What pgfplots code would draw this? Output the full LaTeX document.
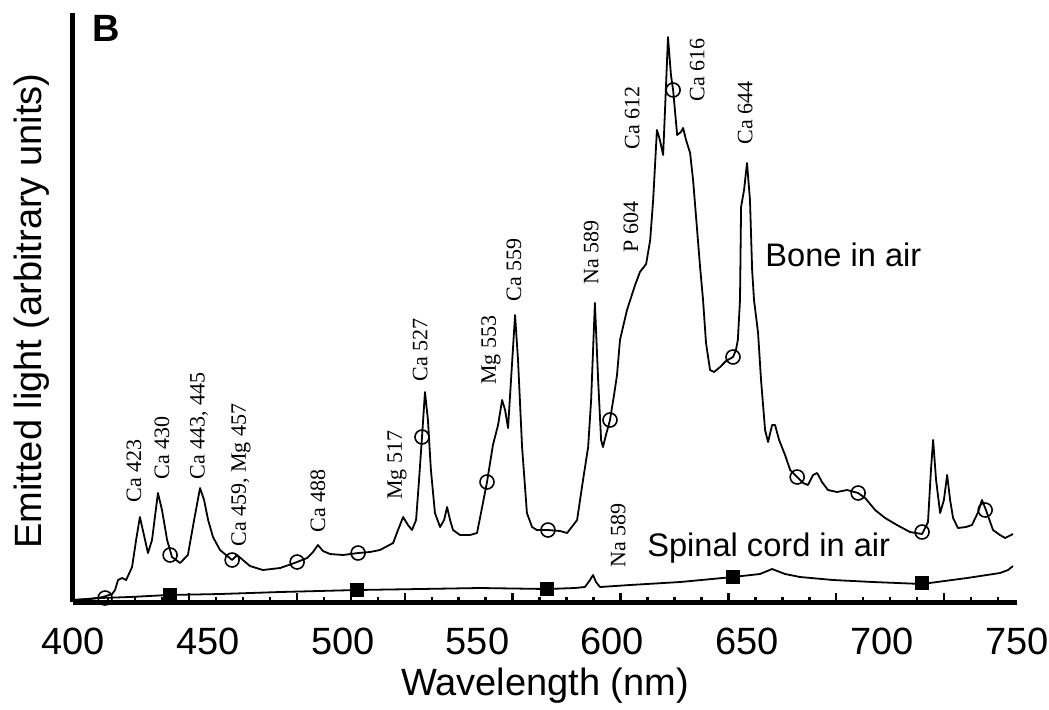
\documentclass[border=0pt]{standalone}
\usepackage{fontspec}
\setmainfont{Liberation Sans}
\newfontfamily\tnr{Liberation Serif}
\usepackage{pgfplots}
\pgfplotsset{compat=1.18}

\begin{document}
\begin{tikzpicture}
\useasboundingbox (-36.5pt,-53.5pt) rectangle (488pt,301pt);
\pgfplotsset{
  specax/.style={
    scale only axis, width=472pt, height=294.5pt,
    at={(0,0)}, anchor=south west,
    xmin=400, xmax=750, ymin=0, ymax=589,
    axis x line*=bottom, axis y line*=left,
    tick align=inside, xtick pos=bottom, ytick=\empty,
  },
}
\tikzset{peak/.style={rotate=90, anchor=west, inner sep=0pt, font=\tnr\fontsize{11}{13}\selectfont}}
% tick marks of the original plot (offset from the labels)
\begin{axis}[specax,
    axis line style={draw=none},
    xtick={443,483,523,563,603,643,683,723}, xticklabels={},
    minor xtick={413,423,433,453,463,473,493,503,513,533,543,553,573,583,593,613,623,633,653,663,673,693,703,713,733,743},
    major tick length=4.5pt, minor tick length=2.5pt,
    every tick/.style={black, line width=1.2pt},
]
\addplot[draw=none] coordinates {(400,0)};
\end{axis}

\begin{axis}[specax,
    clip=false,
    axis line style={-, line width=2.5pt, black},
    xtick={400,450,500,550,600,650,700,750},
    xticklabels={400,450,500,550,600,650,700,750},
    major tick length=0pt,
    xticklabel style={inner sep=0pt, yshift=-13pt, font=\fontsize{19}{22}\selectfont},
    xlabel={Wavelength (nm)},
    xlabel style={at={(axis description cs:0.5,0)}, anchor=base, yshift=-46.5pt, font=\fontsize{19}{22}\selectfont},
    ylabel={Emitted light (arbitrary units)},
    ylabel style={at={(axis description cs:-0.044,0.494)}, anchor=center, font=\fontsize{19}{22}\selectfont},
]
% bone in air
\addplot[black, line width=0.9pt, line join=round] coordinates {
(400.0,2) (406.3,3) (411.1,5) (414.5,8) (415.6,12) (416.7,22) (418.2,24) (419.7,22)
(421.9,35) (423.4,62) (424.8,85) (426.3,67) (427.8,49) (429.3,62) (431.5,109) (433.0,92)
(434.9,62) (436.7,45) (439.7,39) (442.6,47) (444.9,82) (447.1,114) (448.6,102) (450.1,82)
(451.9,65) (454.5,52) (459.0,42) (460.8,47) (463.0,42) (465.6,36) (470.4,32) (476.8,34)
(483.1,40) (486.8,44) (489.0,50) (490.8,57) (492.7,51) (495.3,48) (500.1,47) (505.7,49)
(510.1,50) (513.8,52) (518.7,59) (520.5,72) (522.4,85) (524.2,77) (525.7,72) (527.2,82)
(528.3,122) (529.4,165) (530.5,210) (531.6,182) (532.7,132) (534.2,89) (536.1,75) (537.6,82)
(538.7,95) (539.8,82) (540.9,72) (543.5,67) (547.2,67) (549.8,69) (551.7,95) (553.5,120)
(555.7,157) (557.6,177) (559.1,202) (560.2,192) (561.3,174) (562.4,222) (563.9,287) (565.0,242)
(566.5,155) (568.3,89) (570.2,75) (572.0,72) (576.1,72) (580.6,71) (583.2,69) (586.9,82)
(589.1,122) (591.0,155) (592.1,202) (593.5,299) (594.7,222) (595.8,162) (596.5,155) (597.6,167)
(599.1,182) (600.6,207) (601.7,227) (602.8,262) (605.4,292) (608.4,317) (610.2,330) (612.5,338)
(614.0,362) (615.1,402) (616.2,457) (616.5,472) (617.6,462) (618.8,447) (619.5,492) (620.6,565)
(621.7,527) (622.5,512) (624.0,467) (625.4,470) (626.2,474) (627.3,462) (628.8,449) (629.9,422)
(631.4,372) (632.5,335) (633.6,302) (634.7,259) (636.2,232) (637.7,230) (639.9,235) (642.1,241)
(644.7,245) (645.8,252) (646.5,262) (647.3,302) (647.7,395) (648.8,412) (649.9,439) (651.0,402)
(651.8,332) (652.5,302) (654.0,269) (655.1,222) (656.6,172) (657.7,160) (659.2,177) (660.3,177)
(661.8,162) (664.0,147) (665.9,132) (668.5,125) (670.7,119) (672.5,117) (674.4,127) (675.9,129)
(677.7,120) (679.9,112) (683.3,110) (687.0,112) (691.1,109) (693.7,104) (697.4,92) (701.1,84)
(705.5,77) (710.3,70) (714.8,68) (717.0,80) (718.1,132) (718.9,162) (720.0,122) (721.5,89)
(722.9,102) (724.1,127) (725.2,102) (726.3,84) (728.1,74) (731.1,75) (733.3,77) (735.6,90)
(737.0,102) (738.5,92) (741.1,72) (743.7,67) (745.6,64) (748.5,68)
};
\addplot[only marks, mark=o, mark size=3.5pt, mark options={line width=0.8pt, black}] coordinates {
(411.9,4) (436.0,47) (459.0,42) (483.1,40) (505.7,49) (529.4,165) (553.5,120) (576.1,72)
(599.1,182) (622.5,512) (644.7,245) (668.5,125) (691.1,109) (714.8,70) (738.2,92)
};
% spinal cord in air
\addplot[black, line width=0.9pt, line join=round] coordinates {
(400.0,2) (410.0,4) (421.1,5) (435.2,7) (454.5,8) (476.8,10) (505.3,12) (528.7,13)
(550.9,14) (575.8,13) (586.1,14) (589.8,15) (591.7,22) (592.8,27) (593.9,20) (595.4,15)
(606.5,17) (625.1,20) (644.7,25) (654.7,28) (659.2,33) (664.0,28) (669.6,25) (681.8,22)
(696.6,20) (714.8,18) (731.5,24) (743.7,29) (746.7,32) (748.5,36)
};
\addplot[only marks, mark=square*, mark size=3.2pt, black] coordinates {
(435.9,7) (505.3,12) (575.8,13) (644.7,25) (714.8,19)
};
% peak labels
\node[peak] at (axis cs:422.6,99) {Ca 423};
\node[peak] at (axis cs:433.0,122) {Ca 430};
\node[peak] at (axis cs:446.7,122) {Ca 443, 445};
\node[peak] at (axis cs:462.3,55) {Ca 459, Mg 457};
\node[peak] at (axis cs:490.8,69) {Ca 488};
\node[peak] at (axis cs:520.1,102) {Mg 517};
\node[peak] at (axis cs:528.7,220) {Ca 527};
\node[peak] at (axis cs:555.0,217) {Mg 553};
\node[peak] at (axis cs:563.5,300) {Ca 559};
\node[peak] at (axis cs:592.1,317) {Na 589};
\node[peak] at (axis cs:606.9,349) {P 604};
\node[peak] at (axis cs:607.3,452) {Ca 612};
\node[peak] at (axis cs:631.4,500) {Ca 616};
\node[peak] at (axis cs:649.2,457) {Ca 644};
\node[peak] at (axis cs:602.1,34) {Na 589};
\node[anchor=west, inner sep=0pt, font=\fontsize{16.3}{19}\selectfont] at (axis cs:656.6,347) {Bone in air};
\node[anchor=west, inner sep=0pt, font=\fontsize{16.3}{19}\selectfont] at (axis cs:612.8,54) {Spinal cord in air};
\node[anchor=north west, inner sep=0pt, font=\bfseries\fontsize{19}{22}\selectfont] at (axis cs:407.0,587) {B};
\end{axis}
\end{tikzpicture}
\end{document}
